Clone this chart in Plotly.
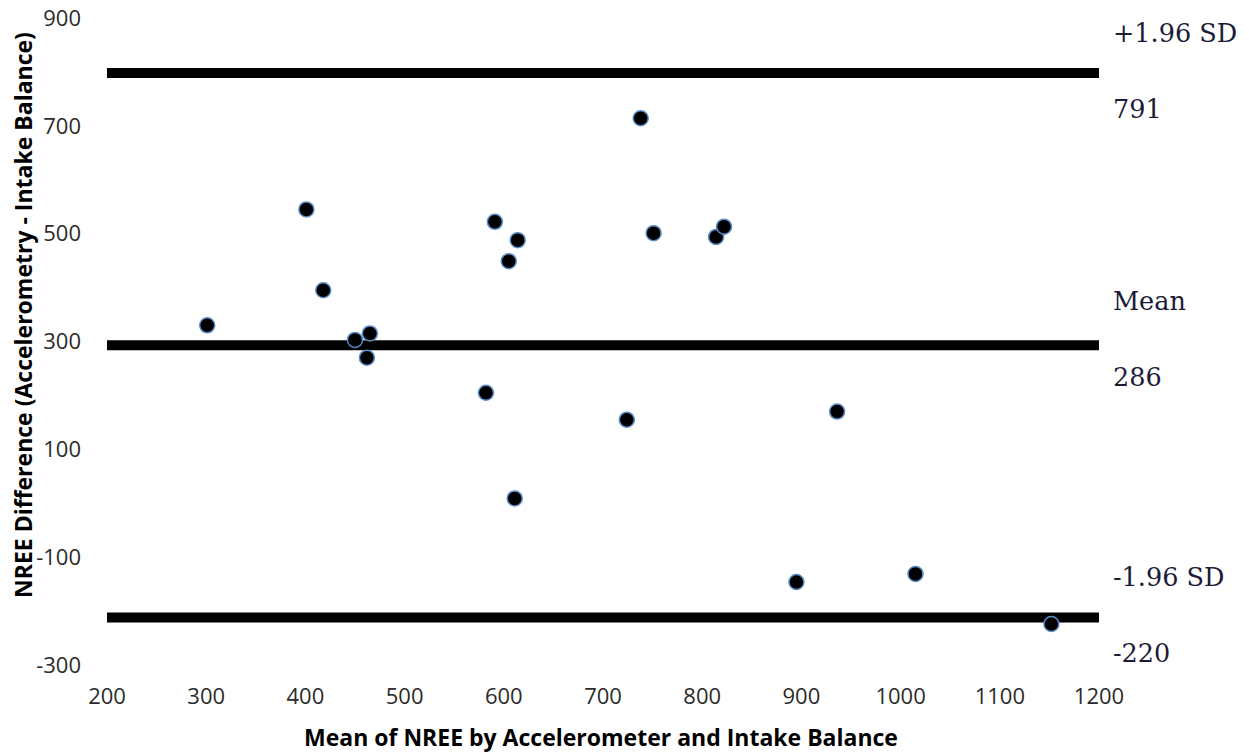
import plotly.graph_objects as go

# Data (Bland-Altman style plot)
mean_nree = [301, 401, 418, 450, 462, 465, 582, 591, 605, 611, 614,
             724, 738, 751, 814, 822, 895, 936, 1015, 1152]
diff_nree = [330, 545, 395, 303, 270, 315, 205, 522, 449, 9, 488,
             155, 714, 501, 494, 513, -146, 170, -131, -224]

# Reference lines (as drawn) and their printed labels
line_values = [798, 293, -212]
line_names = ["+1.96 SD", "Mean", "-1.96 SD"]
line_numbers = ["791", "286", "-220"]

x_ticks = [200, 300, 400, 500, 600, 700, 800, 900, 1000, 1100, 1200]
y_ticks = [-300, -100, 100, 300, 500, 700, 900]
y_tick_text = ["-300", "-100", "100", "300", "500", "700", "900"]

x_title = "Mean of NREE by Accelerometer and Intake Balance"
y_title = "NREE Difference (Accelerometry - Intake Balance)"

fig = go.Figure()

for v in line_values:
    fig.add_trace(go.Scatter(
        x=[x_ticks[0], x_ticks[-1]], y=[v, v], mode="lines",
        line=dict(color="black", width=10), hoverinfo="skip", showlegend=False,
    ))

fig.add_trace(go.Scatter(
    x=mean_nree, y=diff_nree, mode="markers",
    marker=dict(size=15, color="black", line=dict(color="#5a8dc8", width=1.5)),
    showlegend=False,
))

tick_font = dict(family="Open Sans", size=22, color="#2b2b2b")
label_font = dict(family="DejaVu Serif", size=25.5, color="#1c1c38")

# right-side labels: name above line, number below line (paper y positions)
name_y = [0.977, 0.563, 0.136]
num_y = [0.860, 0.445, 0.0185]
for name, num, ny, my in zip(line_names, line_numbers, name_y, num_y):
    fig.add_annotation(text=name, xref="paper", yref="paper", x=1.012, y=ny,
                       xanchor="left", yanchor="middle", showarrow=False, font=label_font)
    fig.add_annotation(text=num, xref="paper", yref="paper", x=1.012, y=my,
                       xanchor="left", yanchor="middle", showarrow=False, font=label_font)

title_font = dict(family="Open Sans", size=23, color="black")
fig.add_annotation(text="<b>" + x_title + "</b>", xref="paper", yref="paper",
                   x=0.498, y=-0.112, xanchor="center", yanchor="middle",
                   showarrow=False, font=title_font)
fig.add_annotation(text="<b>" + y_title + "</b>", xref="paper", yref="paper",
                   x=-0.0847, y=0.541, xanchor="center", yanchor="middle",
                   textangle=-90, showarrow=False, font=title_font)

fig.update_layout(
    width=1249, height=755,
    margin=dict(l=107, r=150, t=18, b=90),
    paper_bgcolor="white", plot_bgcolor="white",
    xaxis=dict(range=[200, 1200], tickvals=x_ticks, showgrid=False, zeroline=False,
               showline=False, ticks="", tickfont=tick_font, ticklabelstandoff=16,
               automargin=False, ticklabeloverflow="allow"),
    yaxis=dict(range=[-300, 900], tickvals=y_ticks, ticktext=y_tick_text,
               showgrid=False, zeroline=False,
               showline=False, ticks="", tickfont=tick_font, ticklabelstandoff=25,
               automargin=False, ticklabeloverflow="allow"),
)

fig.write_html("out.html",
               config={"displayModeBar": False},
               post_script="document.body.style.margin='0px';document.body.style.overflow='hidden';")
